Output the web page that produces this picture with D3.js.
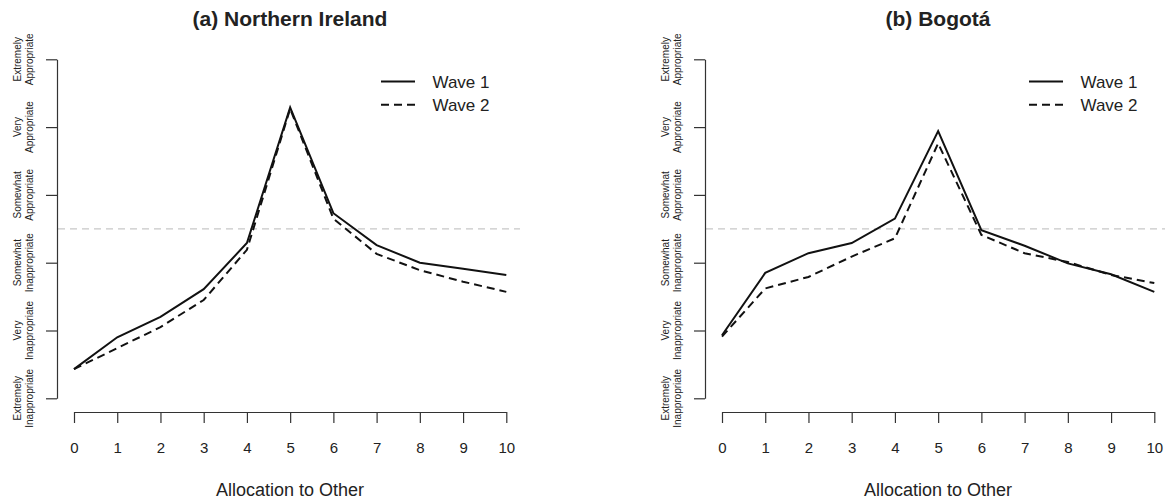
<!DOCTYPE html>
<html>
<head>
<meta charset="utf-8">
<script src="https://cdn.jsdelivr.net/npm/d3@7"></script>
<style>
  body { margin: 0; background: #fff; }
  text { font-family: "Liberation Sans", Arial, sans-serif; fill: #222; }
</style>
</head>
<body>
<div id="chart"></div>
<script>
const allocation = [0, 1, 2, 3, 4, 5, 6, 7, 8, 9, 10];
const ratingLabels = [
  ["Extremely", "Inappropriate"],
  ["Very", "Inappropriate"],
  ["Somewhat", "Inappropriate"],
  ["Somewhat", "Appropriate"],
  ["Very", "Appropriate"],
  ["Extremely", "Appropriate"]
];
const ratingTicks = [1, 2, 3, 4, 5, 6];
const neutral = 3.5;

const panelTitles = ["(a) Northern Ireland", "(b) Bogotá"];
const seriesNames = ["Wave 1", "Wave 2"];

const niWave1 = [1.43, 1.90, 2.20, 2.61, 3.29, 5.29, 3.73, 3.26, 3.00, 2.91, 2.82];
const niWave2 = [1.43, 1.74, 2.05, 2.45, 3.19, 5.27, 3.65, 3.13, 2.89, 2.72, 2.57];
const boWave1 = [1.93, 2.85, 3.14, 3.29, 3.65, 4.94, 3.48, 3.25, 2.99, 2.83, 2.57];
const boWave2 = [1.91, 2.62, 2.79, 3.09, 3.36, 4.76, 3.41, 3.14, 3.01, 2.82, 2.70];

const panels = [
  { title: panelTitles[0], waves: [niWave1, niWave2] },
  { title: panelTitles[1], waves: [boWave1, boWave2] }
];

const W = 1172, H = 502;
const panelShift = 648;
const dashes = [null, "8,5"];

const svg = d3.select("#chart")
  .append("svg")
  .attr("width", W)
  .attr("height", H);

const x = d3.scaleLinear().domain([0, 10]).range([74, 506.3]);
const y = d3.scaleLinear().domain([1, 6]).range([398.3, 59.3]);

const line = d3.line()
  .x((d, i) => x(allocation[i]))
  .y(d => y(d));

panels.forEach((p, k) => {
  const g = svg.append("g").attr("transform", `translate(${k * panelShift},0)`);

  // title
  g.append("text")
    .attr("x", 290)
    .attr("y", 26)
    .attr("text-anchor", "middle")
    .style("font-size", "21px")
    .style("font-weight", "bold")
    .text(p.title);

  // neutral reference line
  g.append("line")
    .attr("x1", 58).attr("x2", k === 0 ? 520 : 517)
    .attr("y1", y(neutral)).attr("y2", y(neutral))
    .attr("stroke", "#c8c8c8")
    .attr("stroke-width", 1.2)
    .attr("stroke-dasharray", "7,5");

  // x axis
  const xa = g.append("g")
    .attr("transform", "translate(0,412)")
    .call(d3.axisBottom(x).tickValues(allocation).tickSize(11).tickSizeOuter(0).tickPadding(19));
  xa.selectAll("path, line").attr("stroke", "#333").attr("stroke-width", 1.2);
  xa.selectAll("text").style("font-size", "15px").style("font-family", "Liberation Sans, Arial, sans-serif").attr("fill", "#222");

  g.append("text")
    .attr("x", 290)
    .attr("y", 495.5)
    .attr("text-anchor", "middle")
    .style("font-size", "18px")
    .text("Allocation to Other");

  // y axis
  const ya = g.append("g")
    .attr("transform", "translate(57,0)")
    .call(d3.axisLeft(y).tickValues(ratingTicks).tickSize(11).tickSizeOuter(0).tickFormat(""));
  ya.selectAll("path, line").attr("stroke", "#333").attr("stroke-width", 1.2);

  ratingTicks.forEach((t, i) => {
    const lab = g.append("text")
      .attr("transform", `translate(0,${y(t)}) rotate(-90)`)
      .attr("text-anchor", "middle")
      .style("font-size", "10px")
      .attr("fill", "#333");
    lab.append("tspan").attr("x", 0).attr("y", 21).text(ratingLabels[i][0]);
    lab.append("tspan").attr("x", 0).attr("y", 32.5).text(ratingLabels[i][1]);
  });

  // lines
  p.waves.forEach((w, j) => {
    g.append("path")
      .datum(w)
      .attr("d", line)
      .attr("fill", "none")
      .attr("stroke", "#111")
      .attr("stroke-width", 2)
      .attr("stroke-dasharray", dashes[j]);
  });

  // legend
  seriesNames.forEach((s, j) => {
    const ly = 81.5 + j * 23.3;
    g.append("line")
      .attr("x1", 381).attr("x2", 415)
      .attr("y1", ly).attr("y2", ly)
      .attr("stroke", "#111")
      .attr("stroke-width", 2)
      .attr("stroke-dasharray", dashes[j]);
    g.append("text")
      .attr("x", 432.5)
      .attr("y", ly + 6)
      .style("font-size", "17px")
      .text(s);
  });
});
</script>
</body>
</html>
